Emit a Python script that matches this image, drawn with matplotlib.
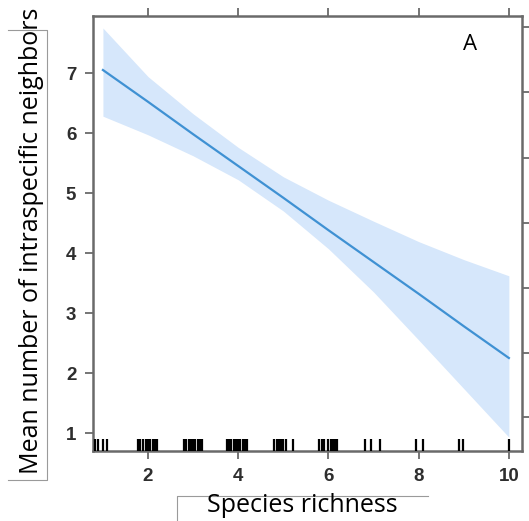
import matplotlib
matplotlib.use("Agg")
import matplotlib.pyplot as plt
import matplotlib.transforms as mtransforms
from matplotlib.lines import Line2D
import numpy as np

# Fitted mean and confidence band
richness = [1, 2, 3, 4, 5, 6, 7, 8, 9, 10]
fit = [7.05, 6.52, 5.98, 5.45, 4.92, 4.38, 3.85, 3.32, 2.78, 2.25]
ci_upper = [7.75, 6.94, 6.32, 5.76, 5.27, 4.88, 4.53, 4.19, 3.89, 3.62]
ci_lower = [6.28, 5.97, 5.62, 5.22, 4.70, 4.07, 3.35, 2.55, 1.74, 0.93]

# Observed (jittered) species richness of the plots, drawn as a rug
rug_x = [0.82, 0.90, 1.00, 1.10,
         1.78, 1.83, 1.88, 1.95, 2.00, 2.05, 2.10, 2.15, 2.20,
         2.80, 2.85, 2.90, 2.95, 3.00, 3.05, 3.10, 3.15, 3.20,
         3.76, 3.80, 3.85, 3.90, 3.95, 4.00, 4.05, 4.10, 4.15, 4.20,
         4.80, 4.85, 4.90, 4.95, 5.00, 5.05, 5.22,
         5.80, 5.85, 5.90, 5.98, 6.05, 6.10, 6.15, 6.20,
         6.82, 6.95, 7.15,
         7.95, 8.10,
         8.90, 8.98,
         10.00]

x_ticks = [2, 4, 6, 8, 10]
y_ticks = [1, 2, 3, 4, 5, 6, 7]
right_ticks = [7.77, 6.68, 5.58, 4.50, 3.42, 2.33, 1.27]

W, H = 529, 521
fig = plt.figure(figsize=(W / 100, H / 100), dpi=100)
ax = fig.add_axes([93 / W, (H - 451) / H, (521.5 - 93) / W, (451 - 16) / H])

frame_col = "#6a6a6a"
line_col = "#3f91d3"
band_col = "#d6e7fb"

ax.fill_between(richness, ci_lower, ci_upper, color=band_col, linewidth=0, zorder=1)
ax.plot(richness, fit, color=line_col, linewidth=1.6, zorder=2)

trans = mtransforms.blended_transform_factory(ax.transData, ax.transAxes)
ax.vlines(rug_x, 0, 0.028, transform=trans, color="black", linewidth=1.6, zorder=3)

ax.set_xlim(0.78, 10.28)
ax.set_ylim(0.70, 7.95)

for sp in ax.spines.values():
    sp.set_color(frame_col)
    sp.set_linewidth(1.8)

ax.set_xticks(x_ticks)
ax.set_yticks(y_ticks)
ax.tick_params(axis="both", direction="out", length=6, width=1.3, color=frame_col,
               labelsize=13.5, labelcolor="#2e2e2e", pad=6)
ax.tick_params(axis="x", top=True, labeltop=False)
for lab in ax.get_xticklabels() + ax.get_yticklabels():
    lab.set_fontfamily("Liberation Sans")
    lab.set_fontweight("bold")

# unlabeled ticks on the right edge
rax = ax.twinx()
rax.set_ylim(ax.get_ylim())
rax.set_yticks(right_ticks)
rax.set_yticklabels([])
rax.tick_params(axis="y", direction="out", length=6, width=1.3, color=frame_col)
for sp in rax.spines.values():
    sp.set_visible(False)

ax.text(470.5 / W, 1 - 45 / H, "A", transform=fig.transFigure, ha="center", va="center",
        fontsize=16, family="Open Sans", color="black")

fig.text(302.5 / W, 1 - 512 / H, "Species richness", ha="center", va="baseline",
         fontsize=18, family="Open Sans", color="black")
fig.text(38 / W, 1 - 241 / H, "Mean number of intraspecific neighbors", rotation=90,
         ha="center", va="baseline", rotation_mode="anchor", fontsize=18,
         family="Open Sans", color="black")

# thin boxes around the axis titles
box_col = "#9a9a9a"
def fig_line(xs, ys):
    fig.add_artist(Line2D([x / W for x in xs], [1 - y / H for y in ys],
                          transform=fig.transFigure, color=box_col, linewidth=0.8))

fig_line([8, 47, 47, 8], [30, 30, 480, 480])
fig_line([428, 177, 177], [496, 496, 521])

fig.savefig("out.png", dpi=100)
